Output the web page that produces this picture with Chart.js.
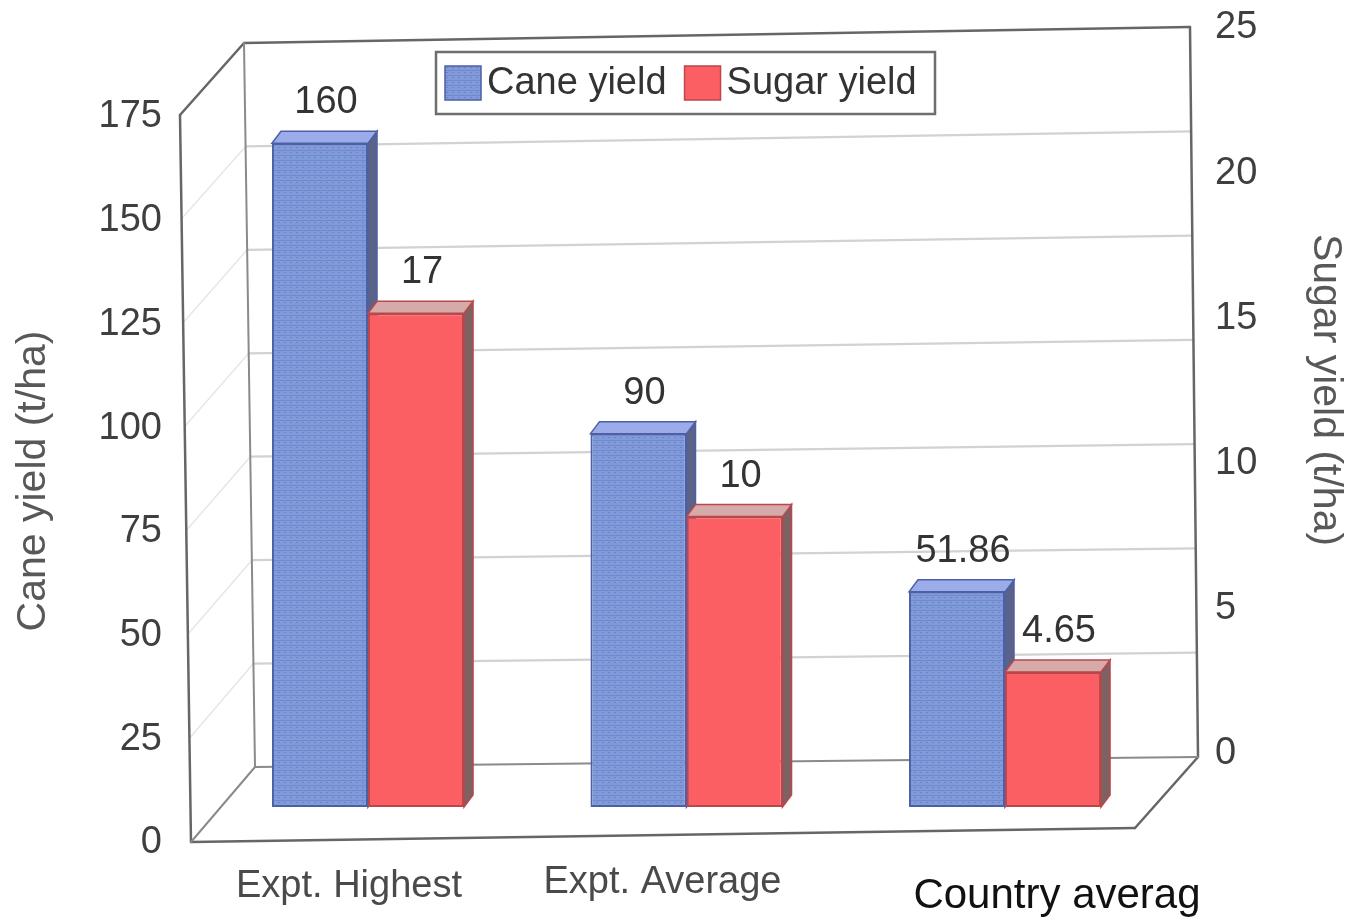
<!DOCTYPE html>
<html>
<head>
<meta charset="utf-8">
<title>Cane and sugar yield</title>
<script src="https://cdn.jsdelivr.net/npm/chart.js@4.4.0/dist/chart.umd.min.js"></script>
<style>
  html, body { margin: 0; padding: 0; background: #ffffff; }
  canvas { display: block; }
</style>
</head>
<body>
<canvas id="chart" width="1350" height="922"></canvas>
<script>
// ---- data ----
const categories = ['Expt. Highest', 'Expt. Average', 'Country averag'];
const caneYield = [160, 90, 51.86];
const sugarYield = [17, 10, 4.65];
const caneTicks = [0, 25, 50, 75, 100, 125, 150, 175];
const sugarTicks = [0, 5, 10, 15, 20, 25];
const seriesNames = ['Cane yield', 'Sugar yield'];
const axisTitles = ['Cane yield (t/ha)', 'Sugar yield (t/ha)'];

// ---- layout ----
const FONT = '"Liberation Sans", Arial, Helvetica, sans-serif';
const W = 1350;
const AREA = { left: 185, right: 1195, top: 20, bottom: 843 };
const PX_CANE = 726 / 175;          // pixels per t/ha on the cane axis
const PX_SUGAR = PX_CANE * 7;       // 25 t/ha sugar spans the same height as 175 t/ha cane
const SUGAR_ZERO_Y = 754;           // right axis zero (back wall)
const BAR_BASE_Y = 807;             // floor line under the bars
const X_FIRST = 368, X_STEP = 318.5;
const DEPTH_X = 9, DEPTH_Y = -12;   // bar depth
const areaH = AREA.bottom - AREA.top;

function rangeFor(zeroY, px) {
  const min = -(AREA.bottom - zeroY) / px;
  return { min: min, max: min + areaH / px };
}
const leftRange = rangeFor(AREA.bottom, PX_CANE);
const rightRange = rangeFor(SUGAR_ZERO_Y, PX_SUGAR);
const caneBarRange = rangeFor(BAR_BASE_Y, PX_CANE);
const sugarBarRange = rangeFor(BAR_BASE_Y, PX_SUGAR);

const canvas = document.getElementById('chart');
const ctx0 = canvas.getContext('2d');

// dotted texture of the cane bars
function makeCanePattern() {
  const c = document.createElement('canvas');
  c.width = 6; c.height = 5;
  const g = c.getContext('2d');
  g.fillStyle = '#819ad9'; g.fillRect(0, 0, 6, 5);
  g.fillStyle = '#7189cd'; g.fillRect(0, 0, 6, 1);
  g.fillStyle = '#6b84c8'; g.fillRect(2, 2, 2, 1);
  return ctx0.createPattern(c, 'repeat');
}
const canePattern = makeCanePattern();

const COLORS = {
  caneEdge: '#4d5fa6', caneTop: '#9cacea', caneSide: '#5a6288',
  sugarFill: '#fb5f63', sugarEdge: '#b9474b', sugarTop: '#d6aaa8', sugarSide: '#7c6262',
  frame: '#666666', grid: '#d2d2d2', sideGrid: '#e6e6e6'
};

function lerp(a, b, t) { return [a[0] + (b[0] - a[0]) * t, a[1] + (b[1] - a[1]) * t]; }

function line(ctx, p, q) {
  ctx.beginPath(); ctx.moveTo(p[0], p[1]); ctx.lineTo(q[0], q[1]); ctx.stroke();
}

function drawBarFaces(ctx, bar, top, side, edge) {
  const p = bar.getProps(['x', 'y', 'base', 'width'], true);
  const l = p.x - p.width / 2, r = p.x + p.width / 2;
  ctx.save();
  ctx.lineWidth = 1.5;
  ctx.strokeStyle = edge;
  ctx.fillStyle = side;
  ctx.beginPath();
  ctx.moveTo(r, p.y); ctx.lineTo(r + DEPTH_X, p.y + DEPTH_Y);
  ctx.lineTo(r + DEPTH_X, p.base + DEPTH_Y); ctx.lineTo(r, p.base);
  ctx.closePath(); ctx.fill(); ctx.stroke();
  ctx.fillStyle = top;
  ctx.beginPath();
  ctx.moveTo(l, p.y); ctx.lineTo(l + DEPTH_X, p.y + DEPTH_Y);
  ctx.lineTo(r + DEPTH_X, p.y + DEPTH_Y); ctx.lineTo(r, p.y);
  ctx.closePath(); ctx.fill(); ctx.stroke();
  ctx.restore();
}

// box corners of the 3-D plot frame
function frameCorners(chart) {
  const yl = chart.scales.yl, yr = chart.scales.yr, a = chart.chartArea;
  return {
    FT: [a.left - 5, yl.getPixelForValue(175) - 2],
    FB: [a.left + 6, yl.getPixelForValue(0) - 1],
    TL: [a.left + 59, yr.getPixelForValue(25) + 15],
    BL: [a.left + 70, yr.getPixelForValue(0) + 13],
    TR: [a.right - 5, yr.getPixelForValue(25) - 1],
    BR: [a.right + 3, yr.getPixelForValue(0) + 3],
    FR: [a.right - 60, yl.getPixelForValue(0) - 15]
  };
}

const frame3d = {
  id: 'frame3d',
  beforeDatasetsDraw(chart) {
    const ctx = chart.ctx;
    const c = frameCorners(chart);
    ctx.save();
    ctx.lineCap = 'round';
    // gridlines on side wall and back wall
    caneTicks.forEach(v => {
      if (v === 0 || v === 175) return;
      const t = v / 175;
      const f = lerp(c.FB, c.FT, t), bl = lerp(c.BL, c.TL, t), br = lerp(c.BR, c.TR, t);
      ctx.strokeStyle = COLORS.sideGrid; ctx.lineWidth = 1.5;
      line(ctx, f, bl);
      ctx.strokeStyle = COLORS.grid; ctx.lineWidth = 2.2;
      line(ctx, bl, br);
    });
    // frame edges
    ctx.strokeStyle = COLORS.frame; ctx.lineWidth = 2.5;
    line(ctx, c.FT, c.FB);
    line(ctx, c.FT, c.TL);
    line(ctx, c.TL, c.TR);
    line(ctx, c.TR, c.BR);
    line(ctx, c.FB, c.FR);
    line(ctx, c.FR, c.BR);
    ctx.strokeStyle = '#8a8a8a'; ctx.lineWidth = 2;
    line(ctx, c.TL, c.BL);
    line(ctx, c.BL, c.BR);
    line(ctx, c.FB, c.BL);
    ctx.restore();
    // cane depth faces go under the neighbouring sugar bars
    chart.getDatasetMeta(0).data.forEach(bar =>
      drawBarFaces(ctx, bar, COLORS.caneTop, COLORS.caneSide, COLORS.caneEdge));
  },
  afterDatasetsDraw(chart) {
    const ctx = chart.ctx;
    chart.getDatasetMeta(1).data.forEach(bar =>
      drawBarFaces(ctx, bar, COLORS.sugarTop, COLORS.sugarSide, COLORS.sugarEdge));
    // value labels
    ctx.save();
    ctx.font = '38px ' + FONT;
    ctx.fillStyle = '#333333';
    ctx.textAlign = 'center';
    ctx.textBaseline = 'alphabetic';
    chart.data.datasets.forEach((ds, di) => {
      chart.getDatasetMeta(di).data.forEach((bar, i) => {
        const p = bar.getProps(['x', 'y'], true);
        ctx.fillText(String(ds.data[i].y), p.x + 6, p.y - 30);
      });
    });
    ctx.restore();
  },
  afterDraw(chart) {
    const ctx = chart.ctx;
    const xs = chart.scales.x;
    ctx.save();
    // category labels along the front floor edge
    const labelStyle = [
      { dx: -19, y: 897, size: 38, color: '#4a4a4a' },
      { dx: -24, y: 893, size: 38, color: '#4a4a4a' },
      { dx: 52, y: 908, size: 42, color: '#111111' }
    ];
    ctx.textAlign = 'center';
    ctx.textBaseline = 'alphabetic';
    categories.forEach((name, i) => {
      const s = labelStyle[i];
      ctx.font = s.size + 'px ' + FONT;
      ctx.fillStyle = s.color;
      ctx.fillText(name, xs.getPixelForValue(i) + s.dx, s.y);
    });
    // axis titles
    ctx.font = '41px ' + FONT;
    ctx.fillStyle = '#585858';
    ctx.textBaseline = 'middle';
    ctx.save();
    ctx.translate(34, 481); ctx.rotate(-Math.PI / 2);
    ctx.fillText(axisTitles[0], 0, 0);
    ctx.restore();
    ctx.save();
    ctx.translate(1325, 390); ctx.rotate(Math.PI / 2);
    ctx.fillText(axisTitles[1], 0, 0);
    ctx.restore();
    // legend box
    const box = { x: 436, y: 52, w: 499, h: 62 };
    ctx.fillStyle = '#ffffff';
    ctx.fillRect(box.x, box.y, box.w, box.h);
    ctx.strokeStyle = '#6e6e6e'; ctx.lineWidth = 2.5;
    ctx.strokeRect(box.x, box.y, box.w, box.h);
    ctx.font = '38px ' + FONT;
    ctx.textAlign = 'left';
    ctx.textBaseline = 'middle';
    let x = box.x + 9;
    const cy = box.y + box.h / 2;
    chart.data.datasets.forEach((ds, i) => {
      ctx.fillStyle = ds.backgroundColor;
      ctx.fillRect(x, cy - 17, 36, 34);
      ctx.strokeStyle = ds.borderColor; ctx.lineWidth = 1.5;
      ctx.strokeRect(x, cy - 17, 36, 34);
      x += 42;
      ctx.fillStyle = '#333333';
      ctx.fillText(ds.label, x, cy + 1);
      x += ctx.measureText(ds.label).width + 18;
    });
    ctx.restore();
  }
};

const tickFont = { family: FONT, size: 38 };

new Chart(canvas, {
  type: 'bar',
  data: {
    datasets: [
      {
        label: seriesNames[0],
        data: caneYield.map((v, i) => ({ x: i, y: v })),
        yAxisID: 'yc',
        backgroundColor: canePattern,
        borderColor: COLORS.caneEdge,
        borderWidth: 2,
        borderSkipped: false,
        categoryPercentage: 0.603,
        barPercentage: 1
      },
      {
        label: seriesNames[1],
        data: sugarYield.map((v, i) => ({ x: i, y: v })),
        yAxisID: 'ys',
        backgroundColor: COLORS.sugarFill,
        borderColor: COLORS.sugarEdge,
        borderWidth: 2,
        borderSkipped: false,
        categoryPercentage: 0.603,
        barPercentage: 1
      }
    ]
  },
  options: {
    responsive: false,
    animation: false,
    events: [],
    layout: {
      autoPadding: false,
      padding: { top: AREA.top, bottom: 922 - AREA.bottom, left: 0, right: 0 }
    },
    plugins: { legend: { display: false }, tooltip: { enabled: false } },
    scales: {
      x: {
        type: 'linear', display: false, offset: false,
        grid: { offset: false },
        min: -(X_FIRST - AREA.left) / X_STEP,
        max: (AREA.right - X_FIRST) / X_STEP,
        afterBuildTicks: s => { s.ticks = categories.map((c, i) => ({ value: i })); }
      },
      yl: {
        type: 'linear', position: 'left',
        min: leftRange.min, max: leftRange.max,
        afterBuildTicks: s => { s.ticks = caneTicks.map(v => ({ value: v })); },
        afterFit: s => { s.width = AREA.left; s.paddingTop = 0; s.paddingBottom = 0; },
        grid: { display: false, drawTicks: false },
        border: { display: false },
        ticks: { padding: 23, color: '#3f3f3f', font: tickFont, autoSkip: false }
      },
      yr: {
        type: 'linear', position: 'right',
        min: rightRange.min, max: rightRange.max,
        afterBuildTicks: s => { s.ticks = sugarTicks.map(v => ({ value: v })); },
        afterFit: s => { s.width = W - AREA.right; s.paddingTop = 0; s.paddingBottom = 0; },
        grid: { display: false, drawTicks: false },
        border: { display: false },
        ticks: { padding: 20, color: '#3f3f3f', font: tickFont, autoSkip: false }
      },
      yc: { type: 'linear', display: false, min: caneBarRange.min, max: caneBarRange.max },
      ys: { type: 'linear', display: false, min: sugarBarRange.min, max: sugarBarRange.max }
    }
  },
  plugins: [frame3d]
});
</script>
</body>
</html>
